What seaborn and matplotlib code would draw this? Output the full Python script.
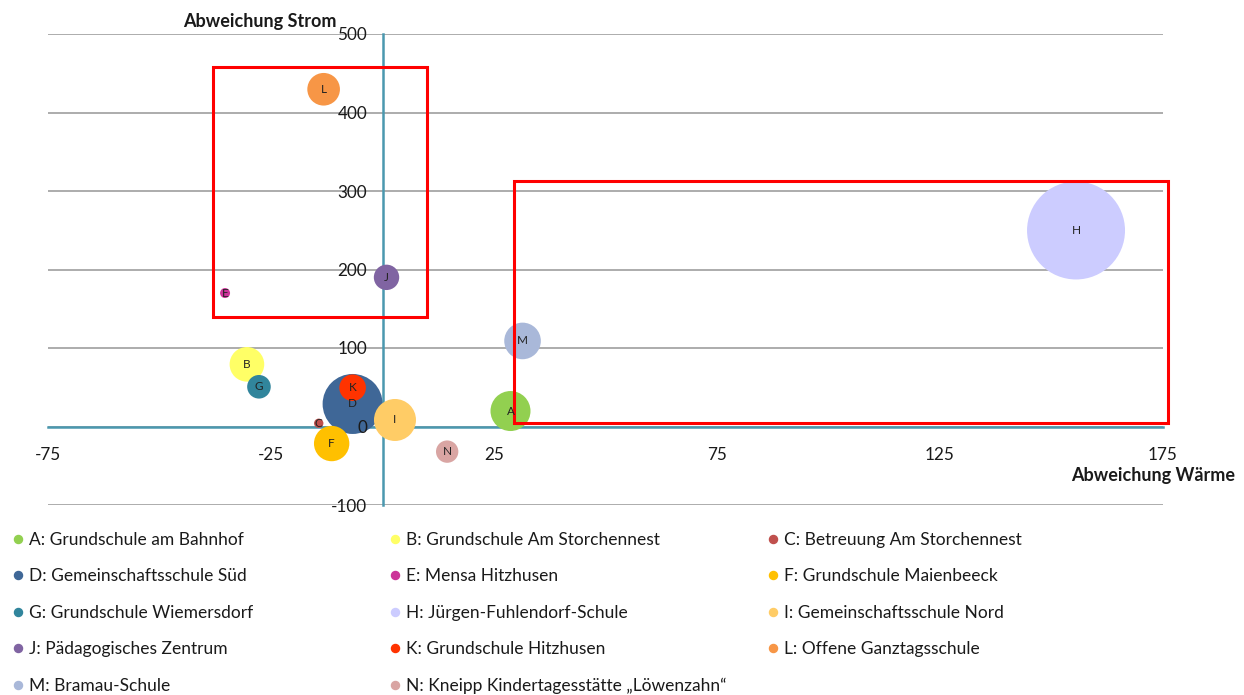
import matplotlib
matplotlib.use("Agg")
import matplotlib.pyplot as plt
import seaborn as sns
import pandas as pd
from matplotlib.patches import Rectangle
from matplotlib.lines import Line2D

# Gebäude-Kennbuchstaben und Namen
codes = list("ABCDEFGHIJKLMN")
namen = [
    "Grundschule am Bahnhof",
    "Grundschule Am Storchennest",
    "Betreuung Am Storchennest",
    "Gemeinschaftsschule Süd",
    "Mensa Hitzhusen",
    "Grundschule Maienbeeck",
    "Grundschule Wiemersdorf",
    "Jürgen-Fuhlendorf-Schule",
    "Gemeinschaftsschule Nord",
    "Pädagogisches Zentrum",
    "Grundschule Hitzhusen",
    "Offene Ganztagsschule",
    "Bramau-Schule",
    "Kneipp Kindertagesstätte „Löwenzahn“",
]
# Abweichung Wärme (x) und Abweichung Strom (y)
abw_waerme = [28.7, -30.4, -14.3, -6.7, -35.3, -11.4, -27.7, 155.5, 2.8, 0.9, -6.7, -13.2, 31.4, 14.5]
abw_strom = [19.7, 79.2, 4.1, 28.7, 170.0, -21.7, 50.6, 249.7, 8.3, 190.0, 49.4, 429.6, 109.0, -32.0]
# Blasengröße (flächenproportional)
groesse = [400, 300, 22, 900, 25, 313, 139, 2400, 441, 161, 177, 266, 335, 125]
farben = ["#92D050", "#FFFF66", "#C0504D", "#3F6797", "#CC3399", "#FFC000", "#31859C",
          "#CCCCFF", "#FFCC66", "#8064A2", "#FF3300", "#F79646", "#A9B8D9", "#D9A5A3"]

# Markierte Bereiche (x0, x1, y0, y1)
bereiche = [(-37.9, 9.9, 139.9, 457.6), (29.5, 176.2, 4.0, 313.0)]

x_ticks = [-75, -25, 25, 75, 125, 175]
y_ticks = list(range(-100, 501, 100))

sns.set_theme(style="white")
plt.rcParams["font.family"] = ["Lato", "DejaVu Sans"]
plt.rcParams["axes.unicode_minus"] = False

teal = "#4A98AF"
W, H = 1244, 695
fig = plt.figure(figsize=(W / 100, H / 100), dpi=100)
ax = fig.add_axes([48 / W, 1 - 505 / H, (1163 - 48) / W, (505 - 34) / H])

df = pd.DataFrame({"code": codes, "name": namen, "waerme": abw_waerme,
                   "strom": abw_strom, "groesse": groesse})
smax = max(groesse)
px2pt = 0.72
sns.scatterplot(data=df, x="waerme", y="strom", hue="code",
                palette=dict(zip(codes, farben)), size="groesse",
                sizes=(0, (2 * px2pt) ** 2 * smax), size_norm=(0, smax),
                legend=False, ax=ax, linewidth=0, alpha=1, clip_on=False, zorder=3)

for c, xv, yv in zip(codes, abw_waerme, abw_strom):
    ax.text(xv, yv, c, ha="center", va="center", fontsize=8.5, color="#222222", zorder=6)

for x0, x1, y0, y1 in bereiche:
    ax.add_patch(Rectangle((x0, y0), x1 - x0, y1 - y0, fill=False, ec="#FF0000",
                           lw=2.2, zorder=5, clip_on=False))

# horizontale Gitterlinien unter den Blasen
for yv in y_ticks:
    ax.axhline(yv, color="#A6A6A6", lw=1.3, zorder=1)

ax.set_xlim(-75, 175)
ax.set_ylim(-100, 500)
ax.set_xticks(x_ticks)
ax.set_yticks(y_ticks)
ax.set_xlabel("")
ax.set_ylabel("")
ax.grid(False)

ax.spines["left"].set_position(("data", 0))
ax.spines["bottom"].set_position(("data", 0))
ax.spines["top"].set_visible(False)
ax.spines["right"].set_visible(False)
for s in ("left", "bottom"):
    ax.spines[s].set_color(teal)
    ax.spines[s].set_linewidth(1.8)
    ax.spines[s].set_zorder(2)

# Achsenbeschriftungen über den Blasen
ax.xaxis.set_zorder(7)
ax.yaxis.set_zorder(7)
ax.tick_params(axis="both", direction="out", length=5, width=1.8, color=teal,
               labelsize=12.3, labelcolor="#1a1a1a")
ax.tick_params(axis="x", pad=10)
ax.tick_params(axis="y", pad=6)

fig.text(183 / W, 1 - 22 / H, "Abweichung Strom", ha="left", va="center",
         fontsize=13, fontweight="bold", color="#1a1a1a")
fig.text(1235 / W, 1 - 476 / H, "Abweichung Wärme", ha="right", va="center",
         fontsize=13, fontweight="bold", color="#1a1a1a")

# Legende in drei Spalten, zeilenweise geordnet
handles = [Line2D([], [], ls="", marker="o", markersize=5.8, mfc=f, mec=f) for f in farben]
labels = [f"{c}: {n}" for c, n in zip(codes, namen)]
spalten_x = [13, 390, 768]
for k, xl in enumerate(spalten_x):
    idx = list(range(k, len(codes), 3))
    fig.legend([handles[i] for i in idx], [labels[i] for i in idx],
               loc="upper left", bbox_to_anchor=(xl / W, 1 - 532 / H),
               frameon=False, fontsize=12.5, borderpad=0, borderaxespad=0,
               handlelength=0.6, handletextpad=0.3, labelspacing=1.18,
               labelcolor="#1a1a1a")

fig.savefig("out.png", dpi=100)
